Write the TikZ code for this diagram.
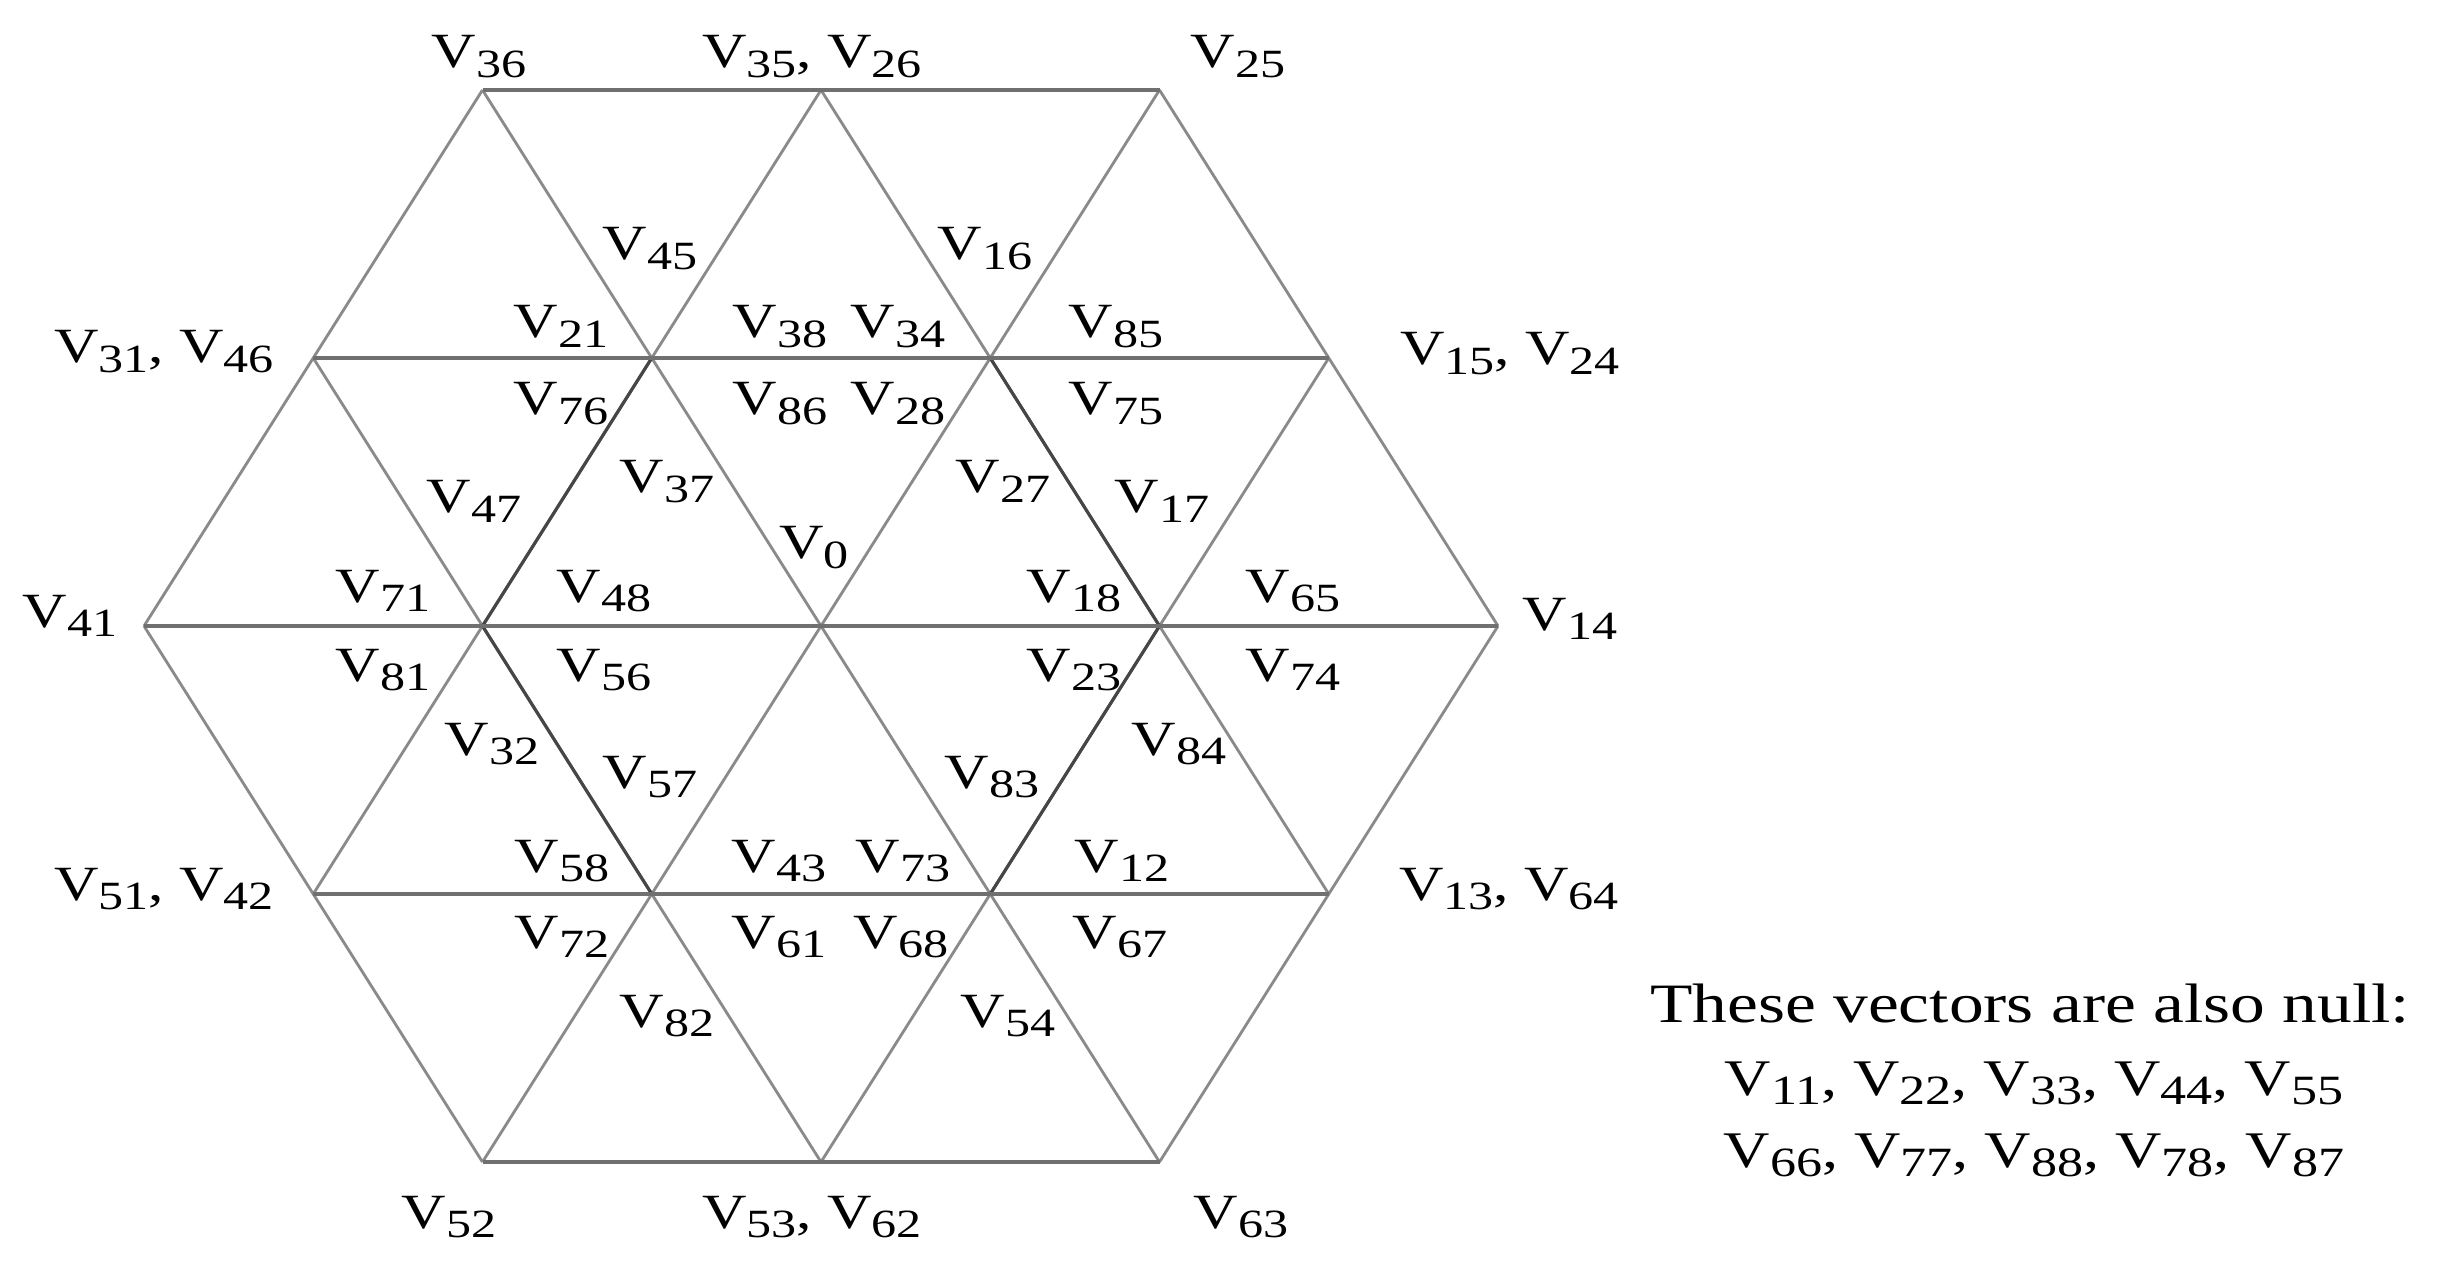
\documentclass[tikz,border=0pt]{standalone}
\usepackage{fontspec}
\setmainfont{Liberation Serif}[FakeStretch=1.25]
\newcommand{\vv}[1]{V\raisebox{-2.6pt}{\fontsize{11.4pt}{11.4pt}\selectfont #1}}
\newcommand{\vw}[1]{V\raisebox{-2.7pt}{\fontsize{11.85pt}{11.85pt}\selectfont #1}}
\definecolor{lgray}{RGB}{138,138,138}
\definecolor{hgray}{RGB}{112,112,112}
\definecolor{dgray}{RGB}{70,70,70}
\begin{document}
\begin{tikzpicture}[x=0.01cm,y=-0.01cm,
  lbl/.style={anchor=base,inner sep=0pt,font=\fontsize{14pt}{16pt}\selectfont},
  note/.style={anchor=base,inner sep=0pt,font=\fontsize{14.6pt}{17pt}\selectfont},
  head/.style={anchor=base,inner sep=0pt,font=\fontsize{15.8pt}{18pt}\selectfont},
  grid/.style={draw=lgray,line width=0.8pt},
  hline/.style={draw=hgray,line width=0.9pt},
  heavy/.style={draw=dgray,line width=0.9pt}]
\useasboundingbox[fill=white] (0,0) rectangle (2445,1267);
% lattice points
\coordinate (T1) at (482.5,90);  \coordinate (T2) at (821,90);   \coordinate (T3) at (1159.5,90);
\coordinate (U1) at (313.25,358);\coordinate (U2) at (651.75,358);\coordinate (U3) at (990.25,358);\coordinate (U4) at (1328.75,358);
\coordinate (M1) at (144,626);   \coordinate (M2) at (482.5,626); \coordinate (M3) at (821,626);  \coordinate (M4) at (1159.5,626); \coordinate (M5) at (1498,626);
\coordinate (D1) at (313.25,894);\coordinate (D2) at (651.75,894);\coordinate (D3) at (990.25,894);\coordinate (D4) at (1328.75,894);
\coordinate (B1) at (482.5,1162);\coordinate (B2) at (821,1162); \coordinate (B3) at (1159.5,1162);
% rising lines
\draw[grid] (M1) -- (T1);
\draw[grid] (D1) -- (T2);
\draw[grid] (B1) -- (T3);
\draw[grid] (B2) -- (U4);
\draw[grid] (B3) -- (M5);
% falling lines
\draw[grid] (T3) -- (M5);
\draw[grid] (T2) -- (D4);
\draw[grid] (T1) -- (B3);
\draw[grid] (U1) -- (B2);
\draw[grid] (M1) -- (B1);
% darker segments
\draw[heavy] (U2) -- (M2) -- (D2);
\draw[heavy] (U3) -- (M4) -- (D3);
% horizontal lines
\draw[hline] (T1) -- (T3);
\draw[hline] (U1) -- (U4);
\draw[hline] (M1) -- (M5);
\draw[hline] (D1) -- (D4);
\draw[hline] (B1) -- (B3);
% labels
\node[lbl] (n36) at (479,68) {\vv{36}};
\node[lbl] (n3526) at (812,68) {\vv{35}, \vv{26}};
\node[lbl] (n25) at (1238,68) {\vv{25}};
\node[lbl] (n45) at (650,260) {\vv{45}};
\node[lbl] (n16) at (985,260) {\vv{16}};
\node[lbl] (n3146) at (164,363) {\vv{31}, \vv{46}};
\node[lbl] (n21) at (561,338) {\vv{21}};
\node[lbl] (n38) at (780,338) {\vv{38}};
\node[lbl] (n34) at (898,338) {\vv{34}};
\node[lbl] (n85) at (1116,338) {\vv{85}};
\node[lbl] (n1524) at (1510,365) {\vv{15}, \vv{24}};
\node[lbl] (n76) at (561,415) {\vv{76}};
\node[lbl] (n86) at (780,415) {\vv{86}};
\node[lbl] (n28) at (898,415) {\vv{28}};
\node[lbl] (n75) at (1116,415) {\vv{75}};
\node[lbl] (n47) at (474,513) {\vv{47}};
\node[lbl] (n37) at (667,493) {\vv{37}};
\node[lbl] (n27) at (1003,493) {\vv{27}};
\node[lbl] (n17) at (1162,513) {\vv{17}};
\node[lbl] (n0) at (814,559) {\vv{0}};
\node[lbl] (n41) at (70,627) {\vv{41}};
\node[lbl] (n71) at (383,602) {\vv{71}};
\node[lbl] (n48) at (604,602) {\vv{48}};
\node[lbl] (n18) at (1074,602) {\vv{18}};
\node[lbl] (n65) at (1293,602) {\vv{65}};
\node[lbl] (n14) at (1570,630) {\vv{14}};
\node[lbl] (n81) at (383,681) {\vv{81}};
\node[lbl] (n56) at (604,681) {\vv{56}};
\node[lbl] (n23) at (1074,681) {\vv{23}};
\node[lbl] (n74) at (1293,681) {\vv{74}};
\node[lbl] (n32) at (492,755) {\vv{32}};
\node[lbl] (n57) at (650,788) {\vv{57}};
\node[lbl] (n83) at (992,788) {\vv{83}};
\node[lbl] (n84) at (1179,755) {\vv{84}};
\node[lbl] (n5142) at (164,900) {\vv{51}, \vv{42}};
\node[lbl] (n58) at (562,872) {\vv{58}};
\node[lbl] (n43) at (779,872) {\vv{43}};
\node[lbl] (n73) at (903,872) {\vv{73}};
\node[lbl] (n12) at (1122,872) {\vv{12}};
\node[lbl] (n1364) at (1509,900) {\vv{13}, \vv{64}};
\node[lbl] (n72) at (562,948) {\vv{72}};
\node[lbl] (n61) at (779,948) {\vv{61}};
\node[lbl] (n68) at (901,948) {\vv{68}};
\node[lbl] (n67) at (1120,948) {\vv{67}};
\node[lbl] (n82) at (667,1027) {\vv{82}};
\node[lbl] (n54) at (1008,1027) {\vv{54}};
\node[lbl] (n52) at (449,1228) {\vv{52}};
\node[lbl] (n5362) at (812,1228) {\vv{53}, \vv{62}};
\node[lbl] (n63) at (1241,1228) {\vv{63}};
% note
\node[head] (note0) at (2030,1022) {These vectors are also null:};
\node[note] (note1) at (2034,1095) {\vw{11}, \vw{22}, \vw{33}, \vw{44}, \vw{55}};
\node[note] (note2) at (2034,1167) {\vw{66}, \vw{77}, \vw{88}, \vw{78}, \vw{87}};
\end{tikzpicture}
\end{document}
